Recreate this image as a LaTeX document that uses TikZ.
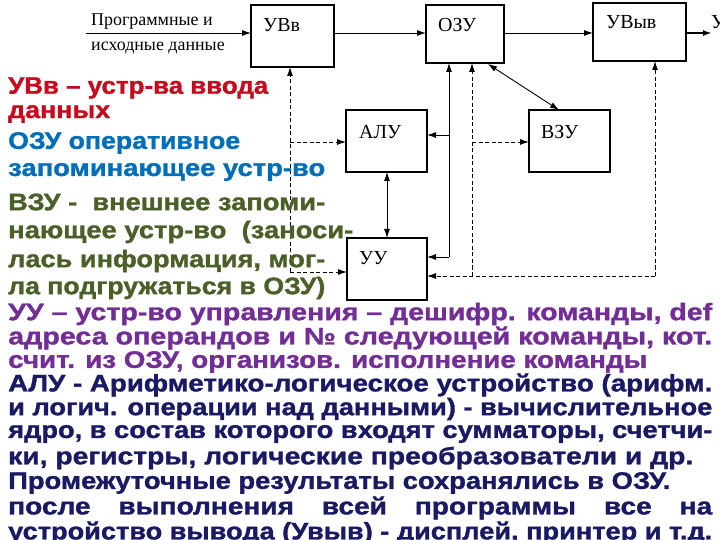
\documentclass[tikz,border=0pt]{standalone}
\usepackage{fontspec}
\setmainfont{Liberation Sans}
\newfontfamily\serif{Liberation Serif}
\newfontfamily\heavy[FakeBold=1.2]{Liberation Sans Bold}
\usetikzlibrary{arrows.meta}
\definecolor{cred}{RGB}{200,10,30}
\definecolor{cblue}{RGB}{0,110,185}
\definecolor{cgreen}{RGB}{75,95,40}
\definecolor{cpurp}{RGB}{115,45,150}
\definecolor{cnavy}{RGB}{25,25,100}
\newcommand{\txtline}[4]{\node[txt,text=#1] at (8,#2) {\resizebox{#3bp}{\height}{#4}};}
\begin{document}
\begin{tikzpicture}[x=1bp,y=-1bp,
  blk/.style={draw,line width=1.4bp,minimum width=0,inner sep=0},
  lab/.style={anchor=west,font=\serif\fontsize{20}{20}\selectfont,inner sep=0},
  txt/.style={anchor=west,inner sep=0,font=\heavy\fontsize{24}{24}\selectfont},
  arr/.style={-{Latex[length=9bp,width=6bp]},line width=0.9bp},
  darr/.style={{Latex[length=9bp,width=6bp]}-{Latex[length=9bp,width=6bp]},line width=0.9bp},
  dsh/.style={dashed,dash pattern=on 4bp off 2.5bp,line width=0.9bp}]
\useasboundingbox (0,0) rectangle (720,540);
\clip (0,0) rectangle (720,540);
% boxes
\draw[blk] (251,5) rectangle (334,67) node[midway](uvv){};
\draw[blk] (426,5) rectangle (504,63) node[midway](ozu){};
\draw[blk] (593,3) rectangle (686,61) node[midway](uvyv){};
\draw[blk] (346,110) rectangle (427,172) node[midway](alu){};
\draw[blk] (529,110) rectangle (610,172) node[midway](vzu){};
\draw[blk] (347,238) rectangle (427,300) node[midway](uu){};
\node[lab] (luvv) at (263,25) {УВв};
\node[lab] (lozu) at (438,25) {ОЗУ};
\node[lab] (luvyv) at (606,22) {УВыв};
\node[lab] (lalu) at (359,132) {АЛУ};
\node[lab] (lvzu) at (541,132) {ВЗУ};
\node[lab] (luu) at (359,258) {УУ};
\node[lab,font=\serif\fontsize{18}{18}\selectfont] (in1) at (91,22) {Программные и};
\node[lab,font=\serif\fontsize{18}{18}\selectfont] (in2) at (91,48) {исходные данные};
\node[lab] (out) at (711,22) {У};
\coordinate (inS) at (86,33);
\coordinate (outE) at (712,33);
% top arrows
\draw[arr] (inS) -- (251,33);
\draw[arr] (334,33) -- (426,33);
\draw[arr] (504,33) -- (593,33);
\draw[arr,line width=2.2bp] (686,33) -- (outE);
\draw[darr] (488,64) -- (559,110);
% solid vertical from OZU
\draw[arr] (449,257) -- (449,63);
\draw[arr] (449,257) -- (427,257);
\draw[arr] (449,135) -- (427,135);
\draw[darr] (387,172) -- (387,238);
% dashed from UVv
\draw[dsh] (290,272) -- (290,72);
\draw[arr] (290,76) -- (290,67);
\draw[dsh,arr] (290,272) -- (347,272);
\draw[dsh,arr] (290,142) -- (346,142);
% dashed to OZU / VZU / UVyv
\draw[dsh] (472,276) -- (472,70);
\draw[arr] (472,72) -- (472,63);
\draw[dsh,arr] (472,142) -- (529,142);
\draw[dsh,arr] (655,276) -- (427,276);
\draw[dsh] (655,276) -- (655,68);
\draw[arr] (655,70) -- (655,61);
% text
\txtline{cred}{88}{260}{УВв – устр-ва ввода}
\txtline{cred}{114}{102}{данных}
\txtline{cblue}{143}{232}{ОЗУ оперативное}
\txtline{cblue}{172}{317}{запоминающее устр-во}
\txtline{cgreen}{202}{317}{ВЗУ -\ \ внешнее запоми-}
\txtline{cgreen}{232}{345}{нающее устр-во\ \ (заноси-}
\txtline{cgreen}{261}{317}{лась информация, мог-}
\txtline{cgreen}{288}{317}{ла подгружаться в ОЗУ)}
\txtline{cpurp}{314}{704}{УУ – устр-во управления – дешифр. команды, def}
\txtline{cpurp}{338}{704}{адреса операндов и № следующей команды, кот.}
\txtline{cpurp}{362}{639}{счит. из ОЗУ, организов. исполнение команды}
\txtline{cnavy}{385}{704}{АЛУ - Арифметико-логическое устройство (арифм.}
\txtline{cnavy}{409}{704}{и логич. операции над данными) - вычислительное}
\txtline{cnavy}{434}{704}{ядро, в состав которого входят сумматоры, счетчи-}
\txtline{cnavy}{458}{685}{ки, регистры, логические преобразователи и др.}
\txtline{cnavy}{483}{662}{Промежуточные результаты сохранялись в ОЗУ.}
\txtline{cnavy}{508}{704}{\makebox[600bp][s]{после выполнения всей программы все на}}
\txtline{cnavy}{533}{704}{устройство вывода (Увыв) - дисплей, принтер и т.д.}
\end{tikzpicture}
\end{document}
